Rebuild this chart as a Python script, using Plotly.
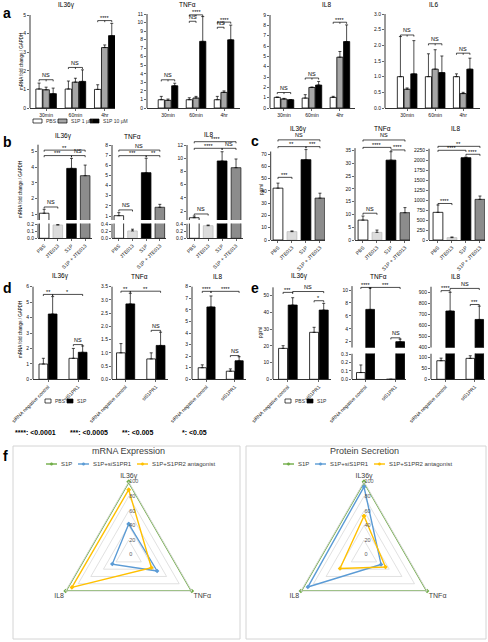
import plotly.graph_objects as go

W, H = 488, 642
FONT = "Liberation Sans, Arial, sans-serif"

# ======================= data =======================
time_points = ["30min", "60min", "4hr"]
a_series = ["PBS", "S1P 1 µM", "S1P 10 µM"]
# rows: PBS, S1P 1 µM, S1P 10 µM ; columns: time points ; *_top = mean + error
a_IL36g = [[1.02, 1.02, 1.00], [0.98, 1.39, 3.25], [0.77, 1.43, 3.89]]
a_IL36g_top = [[1.34, 1.45, 1.25], [1.12, 1.60, 3.39], [1.07, 2.05, 4.55]]
a_TNFa = [[0.97, 0.97, 0.97], [0.90, 1.17, 1.83], [2.60, 7.80, 7.98]]
a_TNFa_top = [[1.36, 1.20, 1.36], [1.05, 1.36, 2.00], [2.90, 10.70, 9.70]]
a_IL8 = [[1.03, 0.96, 1.03], [0.87, 1.99, 4.92], [0.80, 2.22, 6.43]]
a_IL8_top = [[1.06, 1.29, 1.13], [0.93, 2.03, 5.47], [0.80, 2.57, 8.04]]
a_IL6 = [[1.00, 1.00, 1.00], [0.60, 1.24, 0.46], [1.09, 1.13, 1.24]]
a_IL6_top = [[2.28, 1.73, 1.09], [0.64, 1.86, 0.50], [2.15, 1.66, 1.59]]
# (time group, from series, to series, height, label)
a_IL36g_sig = [(0, 0, 2, 1.52, "NS"), (1, 0, 2, 2.18, "NS"), (2, 0, 2, 4.70, "****")]
a_TNFa_sig = [(0, 0, 2, 3.30, "NS"), (1, 0, 1, 10.15, "NS"), (1, 0, 2, 10.90, "****"),
              (2, 0, 1, 9.45, "NS"), (2, 0, 2, 10.05, "****")]
a_IL8_sig = [(0, 0, 2, 1.50, "NS"), (1, 0, 2, 2.90, "NS"), (2, 0, 2, 8.30, "****")]
a_IL6_sig = [(0, 0, 2, 2.33, "NS"), (1, 0, 2, 2.05, "NS"), (2, 0, 2, 1.75, "NS")]

treatments = ["PBS", "JTE013", "S1P", "S1P + JTE013"]
b_IL36g = [1.05, 0.19, 3.93, 3.46]
b_IL36g_top = [1.30, 0.195, 4.57, 4.14]
b_TNFa = [1.03, 0.21, 5.27, 1.86]
b_TNFa_top = [1.33, 0.26, 6.69, 2.15]
b_IL8 = [0.98, 0.36, 9.58, 8.56]
b_IL8_top = [1.24, 0.38, 10.98, 9.88]
b_IL36g_sig = [(0, 1, 1.45, "NS"), (0, 2, 4.75, "***"), (0, 3, 5.10, "**"), (2, 3, 4.75, "NS")]
b_TNFa_sig = [(0, 1, 1.60, "NS"), (0, 2, 6.95, "***"), (0, 3, 7.50, "NS"), (2, 3, 6.95, "**")]
b_IL8_sig = [(0, 1, 1.55, "NS"), (0, 2, 11.5, "****"), (0, 3, 12.5, "****"), (2, 3, 11.5, "NS")]

c_IL36g = [42.2, 6.8, 65.4, 34.1]
c_IL36g_top = [46.3, 7.4, 73.6, 38.1]
c_TNFa = [7.8, 3.0, 31.3, 10.7]
c_TNFa_top = [9.4, 3.9, 34.6, 12.7]
c_IL8 = [697, 59, 2074, 1024]
c_IL8_top = [882, 76, 2091, 1108]
c_IL36g_sig = [(0, 1, 51, "***"), (0, 2, 76, "**"), (2, 3, 76, "***"), (0, 3, 81.5, "NS")]
c_TNFa_sig = [(0, 1, 10.5, "NS"), (0, 2, 36.3, "****"), (2, 3, 35.3, "****"), (0, 3, 39.2, "NS")]
c_IL8_sig = [(0, 1, 920, "****"), (0, 2, 2260, "****"), (2, 3, 2160, "****"), (0, 3, 2360, "**")]

sirna = ["siRNA negative control", "siS1PR1"]
de_series = ["PBS", "S1P"]
# rows: PBS, S1P ; columns: siRNA groups
d_IL36g = [[0.99, 1.36], [4.23, 1.75]]
d_IL36g_top = [[1.36, 2.00], [5.36, 2.16]]
d_TNFa = [[1.00, 0.77], [2.85, 1.28]]
d_TNFa_top = [[1.35, 1.00], [3.25, 1.78]]
d_IL8 = [[1.00, 0.70], [6.25, 1.60]]
d_IL8_top = [[1.25, 0.90], [7.20, 1.95]]
# ((group, series), (group, series), height, label)
d_IL36g_sig = [((0, 0), (0, 1), 5.5, "**"), ((0, 1), (1, 1), 5.5, "*"), ((1, 0), (1, 1), 2.25, "NS")]
d_TNFa_sig = [((0, 0), (0, 1), 3.33, "**"), ((0, 1), (1, 1), 3.33, "**"), ((1, 0), (1, 1), 1.85, "NS")]
d_IL8_sig = [((0, 0), (0, 1), 7.6, "****"), ((0, 1), (1, 1), 7.6, "****"), ((1, 0), (1, 1), 2.05, "NS")]

e_IL36g = [[18.5, 28.1], [44.4, 41.4]]
e_IL36g_top = [[20.1, 31.1], [48.8, 45.4]]
e_TNFa = [[0.08, 0.0], [7.0, 2.0]]
e_TNFa_top = [[0.17, 0.0], [10.3, 2.4]]
e_IL8 = [[86, 97], [731, 655]]
e_IL8_top = [[98, 109], [900, 775]]
e_IL36g_sig = [((0, 0), (0, 1), 52, "***"), ((0, 1), (1, 1), 52.5, "NS"), ((1, 0), (1, 1), 47, "*")]
e_TNFa_sig = [((0, 0), (0, 1), 10.4, "****"), ((0, 1), (1, 1), 10.4, "***"), ((1, 0), (1, 1), 2.6, "NS")]
e_IL8_sig = [((0, 0), (0, 1), 915, "****"), ((0, 1), (1, 1), 935, "NS"), ((1, 0), (1, 1), 790, "***")]

pvalue_keys = ["****", "***", "**", "*"]
pvalue_text = ["<0.0001", "<0.0005", "<0.005", "<0.05"]

radar_axes = ["IL36γ", "TNFα", "IL8"]
radar_series = ["S1P", "S1P+siS1PR1", "S1P+S1PR2 antagonist"]
mrna_expression = [[100, 100, 100], [42, 45, 26], [89, 36, 90]]
protein_secretion = [[100, 100, 100], [93, 27, 89], [53, 34, 38]]

# ======================= styles =======================
A_COLORS = ["white", "#a6a6a6", "black"]
T_COLORS = ["white", "#dcdcdc", "black", "#8c8c8c"]
T_LINES = ["black", "#bdbdbd", "black", "#222222"]
DE_COLORS = ["white", "black"]
R_COLORS = ["#70ad47", "#5b9bd5", "#ffc000"]
R_WIDTHS = [2.2, 1.4, 1.4]

axes_layout, shapes, annotations, traces = {}, [], [], []
SCALE = {}
_n = [0]


def refs(n):
    s = "" if n == 1 else str(n)
    return "x" + s, "y" + s, s


def yrange_from(cal, dom):
    (v1, p1), (v2, p2) = cal
    sc = (p1 - p2) / (v2 - v1)
    top, bot = dom
    return [v1 + (p1 - bot) / sc, v1 + (p1 - top) / sc], sc


def add_subplot(xpx, dom, cal, xrange, cats, yticks, ytext=None, xlabels=True,
                xline=True, tickangle=0, ytop=None):
    _n[0] += 1
    n = _n[0]
    xr, yr, s = refs(n)
    rng, sc = yrange_from(cal, dom)
    SCALE[n] = sc
    axes_layout["xaxis" + s] = dict(
        domain=[xpx[0] / W, xpx[1] / W], anchor="y" + s, type="category",
        categoryorder="array", categoryarray=cats, range=xrange,
        showline=xline, linecolor="black", linewidth=0.8,
        ticks="outside" if xline else "", ticklen=2, tickwidth=0.6, tickcolor="black",
        showticklabels=xlabels, tickangle=tickangle,
        tickfont=dict(size=5, color="#111", family=FONT),
        showgrid=False, zeroline=False, fixedrange=True, automargin=False)
    ya = dict(
        domain=[1 - dom[1] / H, 1 - dom[0] / H], anchor="x" + s, range=rng,
        showline=False, ticks="outside", ticklen=2, tickwidth=0.6, tickcolor="black",
        tickvals=yticks, tickfont=dict(size=5, color="#111", family=FONT),
        showgrid=False, zeroline=False, fixedrange=True, automargin=False)
    if ytext is not None:
        ya["ticktext"] = ytext
    axes_layout["yaxis" + s] = ya
    top = rng[1] if ytop is None else ytop
    shapes.append(dict(type="line", xref=xr + " domain", yref=yr, x0=0, x1=0,
                       y0=rng[0], y1=top, line=dict(color="black", width=0.8)))
    return n


def add_bars(n, cats, vals2d, tops2d, colors, lines, width, step):
    xr, yr, s = refs(n)
    k = len(vals2d)
    for j in range(k):
        centre = (j - (k - 1) / 2) * step
        err = [t - v for v, t in zip(vals2d[j], tops2d[j])]
        traces.append(go.Bar(
            x=cats, y=vals2d[j], xaxis=xr, yaxis=yr, width=width, offset=centre - width / 2,
            marker=dict(color=colors[j], line=dict(color=lines[j], width=0.8)),
            error_y=dict(type="data", symmetric=False, array=err, arrayminus=[0] * len(err),
                         color="black", thickness=0.7, width=1.5),
            hoverinfo="skip", showlegend=False))


def bracket(n, xa, xb, y, label, mid=None):
    xr, yr, s = refs(n)
    t = 1.6 / SCALE[n]
    path = f"M{xa},{y - t} L{xa},{y} L{xb},{y} L{xb},{y - t}"
    if mid is not None:
        path += f" M{mid},{y} L{mid},{y - t}"
    shapes.append(dict(type="path", path=path, xref=xr, yref=yr,
                       line=dict(color="black", width=0.7)))
    annotations.append(dict(x=(xa + xb) / 2, y=y, xref=xr, yref=yr, text=label,
                            showarrow=False, yanchor="bottom", xanchor="center",
                            font=dict(size=5.5, color="black", family=FONT),
                            yshift=-2.5 if "*" in label else -0.5))


def ptext(x, y, text, size=6, xanchor="center", color="black", angle=0):
    annotations.append(dict(x=x / W, y=1 - y / H, xref="paper", yref="paper", text=text,
                            showarrow=False, xanchor=xanchor, yanchor="middle",
                            textangle=angle, font=dict(size=size, color=color, family=FONT)))


def prect(x0, y0, x1, y1, fill, line="black", lw=0.7):
    shapes.append(dict(type="rect", xref="paper", yref="paper", x0=x0 / W, x1=x1 / W,
                       y0=1 - y1 / H, y1=1 - y0 / H, fillcolor=fill,
                       line=dict(color=line, width=lw)))


def fmt(vals, d):
    return [f"{v:.{d}f}" for v in vals]


# ======================= panel a =======================
A_W, A_STEP = 0.22, 0.24
a_panels = [
    ("IL36γ", a_IL36g, a_IL36g_top, a_IL36g_sig, (30, 115), (12, 108), [(0, 108), (5, 15)],
     [-0.55, 2.35], [0, 1, 2, 3, 4, 5], None, 5, (66, 5)),
    ("TNFα", a_TNFa, a_TNFa_top, a_TNFa_sig, (147, 240), (10, 108), [(0, 108), (11, 14)],
     [-0.75, 2.57], list(range(12)), None, 11, (187, 5)),
    ("IL8", a_IL8, a_IL8_top, a_IL8_sig, (270, 355), (12, 108), [(0, 108), (9, 15)],
     [-0.5, 2.54], list(range(10)), None, 9, (326, 5)),
    ("IL6", a_IL6, a_IL6_top, a_IL6_sig, (385, 480), (12, 108), [(0, 108), (3, 14)],
     [-0.79, 2.6], [0, 0.5, 1, 1.5, 2, 2.5, 3], fmt([0, 0.5, 1, 1.5, 2, 2.5, 3], 1), 3, (433, 5)),
]
for title, vals, tops, sig, xpx, dom, cal, xrg, yt, ytx, ytop, tpos in a_panels:
    n = add_subplot(xpx, dom, cal, xrg, time_points, yt, ytx, ytop=ytop)
    add_bars(n, time_points, vals, tops, A_COLORS, ["black"] * 3, A_W, A_STEP)
    for g, j0, j1, y, lab in sig:
        bracket(n, g + (j0 - 1) * A_STEP, g + (j1 - 1) * A_STEP, y, lab,
                mid=g if j1 - j0 == 2 else None)
    ptext(tpos[0], tpos[1], title, size=6.5)
ptext(21, 62, "mRNA fold change / GAPDH", size=4.5, angle=-90)
for (x0, x1), col, lab in zip([(33, 42), (58, 67), (90, 99)], A_COLORS, a_series):
    prect(x0, 119, x1, 123, col)
    ptext(x1 + 2, 121, lab, size=5, xanchor="left", color="#333")

# ======================= panel b =======================
B_W = 0.7
b_panels = [
    ("IL36γ", b_IL36g, b_IL36g_top, b_IL36g_sig, (38, 92), [-0.45, 3.5],
     (143, 220), [(1, 214), (5, 151.7)], [1, 2, 3, 4, 5], None, 5.45,
     [(0, 238.3), (0.2, 224.3)], [0, 0.1, 0.2], (63, 136)),
    ("TNFα", b_TNFa, b_TNFa_top, b_TNFa_sig, (112, 166), [-0.5, 3.45],
     (139, 220), [(1, 216), (8, 145)], list(range(1, 9)), None, 8,
     [(0, 238.3), (0.4, 224.3)], [0, 0.2, 0.4], (132, 136)),
    ("IL8", b_IL8, b_IL8_top, b_IL8_sig, (187, 243), [-0.52, 3.5],
     (136, 220), [(2, 211), (12, 145)], [2, 4, 6, 8, 10, 12], None, 12,
     [(0, 238.3), (0.4, 224.3)], [0, 0.2, 0.4], (208, 135)),
]
for (title, vals, tops, sig, xpx, xrg, udom, ucal, ut, utx, utop, lcal, lt, tpos) in b_panels:
    nu = add_subplot(xpx, udom, ucal, xrg, treatments, ut, utx, xlabels=False,
                     xline=False, ytop=utop)
    add_bars(nu, treatments, [vals], [tops], [T_COLORS], [T_LINES], B_W, 1)
    for i0, i1, y, lab in sig:
        bracket(nu, i0, i1, y, lab)
    nl = add_subplot(xpx, (223.5, 238.3), lcal, xrg, treatments, lt, fmt(lt, 1), tickangle=-45)
    add_bars(nl, treatments, [vals], [tops], [T_COLORS], [T_LINES], B_W, 1)
    ptext(tpos[0], tpos[1], title, size=6.5)
ptext(21, 190, "mRNA fold change / GAPDH", size=4.5, angle=-90)

# ======================= panel c =======================
c_panels = [
    ("IL36γ", c_IL36g, c_IL36g_top, c_IL36g_sig, (270.7, 325), [-0.52, 3.36],
     [(0, 240), (70, 154)], list(range(0, 71, 10)), 72, (298, 129)),
    ("TNFα", c_TNFa, c_TNFa_top, c_TNFa_sig, (355, 410), [-0.57, 3.36],
     [(0, 240), (35, 150.7)], list(range(0, 36, 5)), 36, (382, 129)),
    ("IL8", c_IL8, c_IL8_top, c_IL8_sig, (429, 485), [-0.64, 3.36],
     [(0, 240), (2250, 150.7)], list(range(0, 2251, 250)), 2300, (455, 129)),
]
for title, vals, tops, sig, xpx, xrg, cal, yt, ytop, tpos in c_panels:
    n = add_subplot(xpx, (137, 240), cal, xrg, treatments, yt, tickangle=-45, ytop=ytop)
    add_bars(n, treatments, [vals], [tops], [T_COLORS], [T_LINES], B_W, 1)
    for i0, i1, y, lab in sig:
        bracket(n, i0, i1, y, lab)
    ptext(tpos[0], tpos[1], title, size=6.5)
ptext(262, 190, "pg/ml", size=4.5, angle=-90)

# ======================= panels d & e =======================
DE_W, DE_STEP = 0.29, 0.31


def de_pos(g, j):
    return g + (j - 0.5) * DE_STEP


d_panels = [
    ("IL36γ", d_IL36g, d_IL36g_top, d_IL36g_sig, (33, 90), [-0.5, 1.4],
     [(0, 379.3), (6, 286.7)], list(range(7)), None, 6, (60, 276)),
    ("TNFα", d_TNFa, d_TNFa_top, d_TNFa_sig, (112, 168), [-0.45, 1.4],
     [(0, 379.3), (3.5, 286.7)], [0, 0.5, 1, 1.5, 2, 2.5, 3, 3.5],
     fmt([0, 0.5, 1, 1.5, 2, 2.5, 3, 3.5], 1), 3.5, (139, 276)),
    ("IL8", d_IL8, d_IL8_top, d_IL8_sig, (192, 246), [-0.52, 1.4],
     [(0, 379.3), (8, 286.7)], list(range(9)), None, 8, (217, 276)),
]
for title, vals, tops, sig, xpx, xrg, cal, yt, ytx, ytop, tpos in d_panels:
    n = add_subplot(xpx, (283, 379.3), cal, xrg, sirna, yt, ytx, tickangle=-45, ytop=ytop)
    add_bars(n, sirna, vals, tops, DE_COLORS, ["black", "black"], DE_W, DE_STEP)
    for (g0, j0), (g1, j1), y, lab in sig:
        bracket(n, de_pos(g0, j0), de_pos(g1, j1), y, lab)
    ptext(tpos[0], tpos[1], title, size=6.5)
ptext(21, 330, "mRNA fold change / GAPDH", size=4.5, angle=-90)

# e1 (single axis)
n = add_subplot((273, 331), (283, 379.3), [(0, 379.3), (50, 295.7)], [-0.48, 1.39], sirna,
                list(range(0, 51, 10)), tickangle=-45, ytop=55)
add_bars(n, sirna, e_IL36g, e_IL36g_top, DE_COLORS, ["black", "black"], DE_W, DE_STEP)
for (g0, j0), (g1, j1), y, lab in e_IL36g_sig:
    bracket(n, de_pos(g0, j0), de_pos(g1, j1), y, lab)
ptext(299, 276, "IL36γ", size=6.5)

# e2, e3 (broken axes)
e_broken = [
    ("TNFα", e_TNFa, e_TNFa_top, e_TNFa_sig, (352, 406), [-0.45, 1.35],
     [(2, 341.7), (10, 290)], [2, 4, 6, 8, 10], None, 10.6,
     [(0, 379.3), (0.3, 354)], [0, 0.1, 0.2, 0.3], fmt([0, 0.1, 0.2, 0.3], 1), (378, 276)),
    ("IL8", e_IL8, e_IL8_top, e_IL8_sig, (431, 485), [-0.5, 1.35],
     [(400, 347.7), (900, 292.3)], list(range(400, 901, 100)), None, 950,
     [(0, 379.3), (100, 357.7)], [0, 50, 100], None, (455, 276)),
]
for (title, vals, tops, sig, xpx, xrg, ucal, ut, utx, utop, lcal, lt, ltx, tpos) in e_broken:
    nu = add_subplot(xpx, (283, 347.7), ucal, xrg, sirna, ut, utx, xlabels=False,
                     xline=False, ytop=utop)
    add_bars(nu, sirna, vals, tops, DE_COLORS, ["black", "black"], DE_W, DE_STEP)
    for (g0, j0), (g1, j1), y, lab in sig:
        bracket(nu, de_pos(g0, j0), de_pos(g1, j1), y, lab)
    nl = add_subplot(xpx, (353.5, 379.3), lcal, xrg, sirna, lt, ltx, tickangle=-45)
    add_bars(nl, sirna, vals, tops, DE_COLORS, ["black", "black"], DE_W, DE_STEP)
    ptext(tpos[0], tpos[1], title, size=6.5)
ptext(260, 333, "pg/ml", size=4.5, angle=-90)

for dx in (0, 240):
    for (x0, x1), col, lab in zip([(45, 51), (67, 73)], DE_COLORS, de_series):
        prect(x0 + dx, 399, x1 + dx, 403, col)
        ptext(x1 + dx + 2, 401, lab, size=5, xanchor="left", color="#333")

# ======================= p-value key =======================
for x, k, t in zip([13, 68, 120, 180], pvalue_keys, pvalue_text):
    ptext(x, 432, f"<b>{k}: {t.replace('<', '&lt;')}</b>", size=7, xanchor="left")

# ======================= panel letters =======================
for x, y, L in [(1, 13, "a"), (1, 142, "b"), (249, 141, "c"), (1, 288, "d"), (249, 288, "e"),
                (1, 456, "f")]:
    ptext(x, y, f"<b>{L}</b>", size=14, xanchor="left")

# ======================= panel f (radar) =======================
prect(13, 446, 240, 639, "rgba(0,0,0,0)", line="#d4d4d4", lw=1)
prect(246, 446, 486, 639, "rgba(0,0,0,0)", line="#d4d4d4", lw=1)
ptext(128, 451, "mRNA Expression", size=9, color="#404040")
ptext(364, 451, "Protein Secretion", size=9, color="#404040")

R = 72.9
polar_layouts = {}
for key, data, cx in [("polar", mrna_expression, 128.7), ("polar2", protein_secretion, 364)]:
    cy = 554.6
    polar_layouts[key] = dict(
        domain=dict(x=[(cx - R) / W, (cx + R) / W], y=[1 - (cy + R) / H, 1 - (cy - R) / H]),
        gridshape="linear", bgcolor="white",
        radialaxis=dict(range=[0, 100], tickvals=[0, 20, 40, 60, 80, 100], angle=90,
                        tickangle=90, showline=False, gridcolor="#d9d9d9", gridwidth=0.8,
                        ticks="", tickfont=dict(size=5.5, color="#595959", family=FONT)),
        angularaxis=dict(direction="clockwise", rotation=90, showgrid=False,
                         linecolor="#d9d9d9", ticks="", categoryorder="array",
                         categoryarray=radar_axes,
                         tickfont=dict(size=7, color="#404040", family=FONT)))
    for vals, name, col, lw in zip(data, radar_series, R_COLORS, R_WIDTHS):
        traces.append(go.Scatterpolar(
            r=vals + vals[:1], theta=radar_axes + radar_axes[:1], subplot=key,
            mode="lines+markers", name=name, line=dict(color=col, width=lw),
            marker=dict(size=3.5, color=col, symbol="diamond"),
            hoverinfo="skip", showlegend=False))

for xs, y in [([(46, 59), (78, 91), (137, 150)], 464), ([(283, 296), (315, 328), (374, 387)], 464)]:
    for (x0, xt), name, col, lw in zip(xs, radar_series, R_COLORS, R_WIDTHS):
        shapes.append(dict(type="line", xref="paper", yref="paper", x0=x0 / W, x1=(x0 + 11) / W,
                           y0=1 - y / H, y1=1 - y / H, line=dict(color=col, width=1.4)))
        shapes.append(dict(type="circle", xref="paper", yref="paper",
                           x0=(x0 + 4.2) / W, x1=(x0 + 6.8) / W, y0=1 - (y + 1.3) / H,
                           y1=1 - (y - 1.3) / H, fillcolor=col, line=dict(color=col, width=0.5)))
        ptext(xt, y, name, size=6, xanchor="left", color="#404040")

fig = go.Figure(traces)
fig.update_layout(
    template="none", width=W, height=H, margin=dict(l=0, r=0, t=0, b=0),
    paper_bgcolor="white", plot_bgcolor="white", barmode="overlay", showlegend=False,
    font=dict(family=FONT, size=6, color="black"),
    shapes=shapes, annotations=annotations, **axes_layout, **polar_layouts)
fig.write_html("out.html", config={"displayModeBar": False, "staticPlot": True},
               post_script="document.body.style.margin='0';document.body.style.overflow='hidden';")
